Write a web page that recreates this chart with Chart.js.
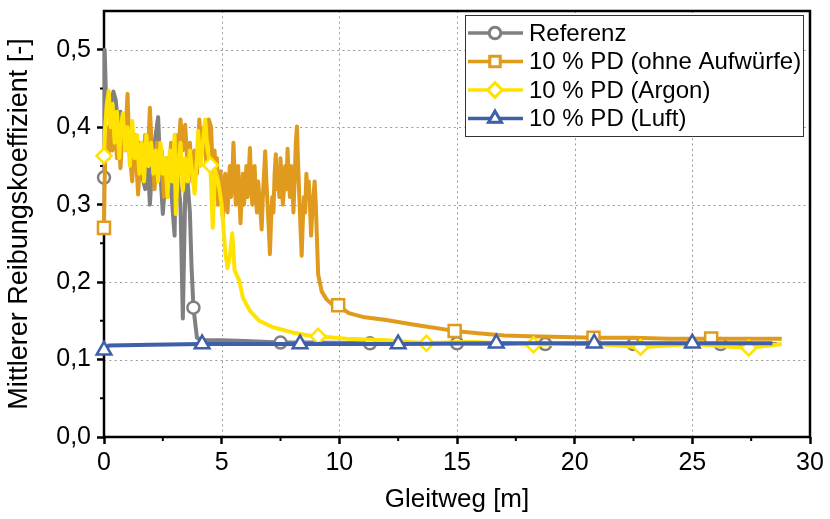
<!DOCTYPE html>
<html lang="de">
<head>
<meta charset="utf-8">
<title>Mittlerer Reibungskoeffizient</title>
<script src="https://cdn.jsdelivr.net/npm/chart.js@4.4.1/dist/chart.umd.min.js"></script>
<style>
    html, body { margin: 0; padding: 0; background: #fff; }
    canvas { display: block; }
</style>
</head>
<body>
<canvas id="reibungChart" width="830" height="519"></canvas>
<script>
// Messreihen: Gleitweg [m] und mittlerer Reibungskoeffizient [-]
const refX = [0, 0.03, 0.1, 0.2, 0.3, 0.4, 0.5, 0.6, 0.7, 0.8, 0.9, 1.0, 1.1, 1.2, 1.3, 1.4, 1.5, 1.6, 1.75, 1.85,
    1.95, 2.05, 2.15, 2.3, 2.4, 2.5, 2.6, 2.7, 2.8, 2.9, 3.0, 3.05, 3.15, 3.25, 3.35, 3.45, 3.55, 3.65, 3.72, 3.8,
    3.95, 4.2, 5.0, 6.0, 7.5, 9.0, 11.3, 13.0, 15.0, 17.0, 18.75, 20.5, 22.5, 24.5, 26.2, 28.6];
const refY = [0.335, 0.50, 0.42, 0.44, 0.43, 0.446, 0.435, 0.40, 0.42, 0.38, 0.41, 0.37, 0.40, 0.36, 0.39, 0.35, 0.38, 0.34, 0.32, 0.36,
    0.30, 0.35, 0.38, 0.413, 0.34, 0.288, 0.33, 0.31, 0.35, 0.30, 0.26, 0.372, 0.33, 0.30, 0.153, 0.313, 0.33, 0.29, 0.22, 0.167,
    0.128, 0.125, 0.125, 0.124, 0.122, 0.122, 0.121, 0.121, 0.121, 0.12, 0.12, 0.12, 0.12, 0.12, 0.12, 0.12];
const refMarks = [0, 3.8, 7.5, 11.3, 15.0, 18.75, 22.5, 26.2];

const ohneX = [0, 0.05, 0.12, 0.2, 0.28, 0.36, 0.45, 0.55, 0.62, 0.7, 0.8, 0.9, 1.0, 1.08, 1.2, 1.3, 1.38, 1.45, 1.55, 1.65,
    1.75, 1.85, 1.95, 2.05, 2.15, 2.25, 2.35, 2.45, 2.55, 2.65, 2.75, 2.85, 2.95, 3.05, 3.15, 3.25, 3.35, 3.45, 3.55, 3.65,
    3.75, 3.85, 3.95, 4.05, 4.15, 4.25, 4.35, 4.45, 4.55, 4.6, 4.65, 4.7, 4.75, 4.8, 4.85, 4.9, 4.95, 5.0,
    5.05, 5.1, 5.15, 5.2, 5.25, 5.3, 5.35, 5.4, 5.45, 5.5, 5.55, 5.6, 5.65, 5.7, 5.75, 5.8, 5.85, 5.9, 5.95, 6.0,
    6.05, 6.1, 6.15, 6.2, 6.25, 6.3, 6.35, 6.4, 6.45, 6.5, 6.55, 6.6, 6.65, 6.7, 6.75, 6.8, 6.85, 6.9, 6.95, 7.0,
    7.05, 7.1, 7.15, 7.2, 7.25, 7.3, 7.35, 7.4, 7.45, 7.5, 7.55, 7.6, 7.65, 7.7, 7.75, 7.8, 7.85, 7.9, 7.95, 8.0,
    8.05, 8.1, 8.15, 8.2, 8.25, 8.3, 8.35, 8.4, 8.45, 8.5, 8.55, 8.6, 8.65, 8.7, 8.75, 8.8, 8.85, 8.9, 8.95, 9.0,
    9.1, 9.25, 9.45, 9.7, 9.95, 10.4, 11.0, 12.0, 13.0, 13.6, 14.9, 15.9, 17.0, 18.1, 19.5, 20.8, 22.5, 24.0, 25.8, 27.0, 28.8];
const ohneY = [0.27, 0.38, 0.40, 0.36, 0.41, 0.37, 0.42, 0.36, 0.39, 0.347, 0.40, 0.38, 0.443, 0.37, 0.33, 0.39, 0.35, 0.313, 0.37, 0.34,
    0.39, 0.35, 0.425, 0.36, 0.32, 0.38, 0.34, 0.37, 0.31, 0.36, 0.33, 0.38, 0.35, 0.39, 0.36, 0.41, 0.37, 0.403, 0.35, 0.38,
    0.33, 0.37, 0.34, 0.41, 0.37, 0.40, 0.35, 0.41, 0.40, 0.36, 0.33, 0.37, 0.34, 0.36, 0.30, 0.33, 0.343, 0.31,
    0.283, 0.32, 0.34, 0.30, 0.29, 0.33, 0.35, 0.31, 0.33, 0.38, 0.34, 0.30, 0.32, 0.35, 0.31, 0.276, 0.31, 0.34, 0.30, 0.32,
    0.35, 0.31, 0.34, 0.373, 0.33, 0.30, 0.33, 0.35, 0.31, 0.29, 0.33, 0.31, 0.29, 0.268, 0.31, 0.34, 0.369, 0.33, 0.30, 0.27,
    0.236, 0.28, 0.31, 0.29, 0.34, 0.365, 0.32, 0.34, 0.31, 0.36, 0.33, 0.30, 0.32, 0.35, 0.32, 0.372, 0.33, 0.31, 0.35, 0.33,
    0.29, 0.33, 0.38, 0.401, 0.35, 0.31, 0.27, 0.234, 0.28, 0.31, 0.29, 0.34, 0.31, 0.33, 0.30, 0.26, 0.29, 0.31, 0.33, 0.30,
    0.21, 0.188, 0.178, 0.171, 0.17, 0.16, 0.155, 0.151, 0.146, 0.143, 0.137, 0.134, 0.131, 0.13, 0.129, 0.128, 0.128, 0.127, 0.127, 0.127, 0.127];
const ohneMarks = [0, 9.95, 14.9, 20.8, 25.8];

const argonX = [0, 0.05, 0.12, 0.2, 0.28, 0.36, 0.45, 0.55, 0.65, 0.72, 0.8, 0.9, 1.0, 1.1, 1.2, 1.3, 1.4, 1.5, 1.6, 1.7,
    1.8, 1.9, 2.0, 2.1, 2.2, 2.3, 2.4, 2.5, 2.6, 2.7, 2.8, 2.9, 3.0, 3.05, 3.15, 3.25, 3.35, 3.45, 3.55, 3.65,
    3.75, 3.85, 3.95, 4.0, 4.1, 4.2, 4.3, 4.4, 4.52, 4.62, 4.72, 4.85, 5.0, 5.15, 5.25, 5.35, 5.45, 5.55, 5.75, 5.9,
    6.2, 6.6, 7.15, 8.0, 8.7, 9.1, 10.3, 12.0, 13.7, 15.5, 18.25, 20.5, 22.8, 25.0, 27.4, 28.8];
const argonY = [0.363, 0.40, 0.43, 0.447, 0.40, 0.43, 0.38, 0.42, 0.36, 0.40, 0.418, 0.37, 0.40, 0.35, 0.408, 0.36, 0.39, 0.34, 0.38, 0.33,
    0.39, 0.35, 0.38, 0.34, 0.37, 0.33, 0.38, 0.34, 0.36, 0.31, 0.37, 0.33, 0.39, 0.288, 0.35, 0.38, 0.318, 0.36, 0.33, 0.37,
    0.34, 0.314, 0.36, 0.395, 0.35, 0.38, 0.41, 0.37, 0.351, 0.27, 0.345, 0.33, 0.30, 0.24, 0.218, 0.235, 0.263, 0.215, 0.202, 0.18,
    0.163, 0.15, 0.142, 0.135, 0.131, 0.13, 0.127, 0.125, 0.121, 0.123, 0.119, 0.121, 0.116, 0.12, 0.115, 0.12];
const argonMarks = [0, 4.52, 9.1, 13.7, 18.25, 22.8, 27.4];

const luftX = [0, 0.2, 2.0, 4.17, 8.33, 12.5, 16.67, 20.83, 25.0, 28.4];
const luftY = [0.112, 0.118, 0.119, 0.12, 0.12, 0.12, 0.121, 0.121, 0.121, 0.121];
const luftMarks = [0, 4.17, 8.33, 12.5, 16.67, 20.83, 25.0];

const xTicks = [0, 5, 10, 15, 20, 25, 30];
const yTicks = [0, 0.1, 0.2, 0.3, 0.4, 0.5];

const FONT = 'Liberation Sans, Arial, sans-serif';

function series(label, xs, ys, marks, color, pointStyle, radius, order) {
    return {
        label: label,
        data: xs.map((x, i) => ({ x: x, y: ys[i] })),
        borderColor: color,
        borderWidth: 4,
        borderJoinStyle: 'round',
        pointStyle: pointStyle,
        pointBackgroundColor: '#fff',
        pointBorderColor: color,
        pointBorderWidth: 2.5,
        pointRadius: (c) => marks.includes(c.raw.x) ? radius : 0,
        pointHoverRadius: 0,
        tension: 0,
        clip: false,
        order: order
    };
}

// punktiertes Gitter, Rahmen und Nebenstriche
const framePlugin = {
    id: 'frame',
    beforeDatasetsDraw(chart) {
        const { ctx, chartArea: a, scales } = chart;
        ctx.save();
        ctx.strokeStyle = '#999';
        ctx.lineWidth = 1;
        ctx.setLineDash([2, 3.3]);
        ctx.beginPath();
        xTicks.slice(1, -1).forEach(v => {
            const px = Math.round(scales.x.getPixelForValue(v)) + 0.5;
            ctx.moveTo(px, a.top);
            ctx.lineTo(px, a.bottom);
        });
        yTicks.slice(1).forEach(v => {
            const py = Math.round(scales.y.getPixelForValue(v)) + 0.5;
            ctx.moveTo(a.left, py);
            ctx.lineTo(a.right, py);
        });
        ctx.stroke();
        ctx.setLineDash([]);

        ctx.strokeStyle = '#000';
        ctx.lineWidth = 2.5;
        ctx.strokeRect(a.left, a.top, a.right - a.left, a.bottom - a.top);
        ctx.lineWidth = 2;
        ctx.beginPath();
        for (let v = 2.5; v < 30; v += 5) {
            const px = scales.x.getPixelForValue(v);
            ctx.moveTo(px, a.bottom);
            ctx.lineTo(px, a.bottom + 4);
        }
        for (let v = 0.05; v < 0.5; v += 0.1) {
            const py = scales.y.getPixelForValue(v);
            ctx.moveTo(a.left, py);
            ctx.lineTo(a.left - 4, py);
        }
        ctx.stroke();
        ctx.restore();
    }
};

// Legende oben rechts, Linie mit Symbol in der Mitte
const legendPlugin = {
    id: 'boxLegend',
    afterDatasetsDraw(chart) {
        const { ctx } = chart;
        const box = { x: 465, y: 15, w: 338, h: 121 };
        ctx.save();
        ctx.fillStyle = '#fff';
        ctx.fillRect(box.x, box.y, box.w, box.h);
        ctx.strokeStyle = '#333';
        ctx.lineWidth = 1;
        ctx.strokeRect(box.x + 0.5, box.y + 0.5, box.w, box.h);
        ctx.font = '24px ' + FONT;
        ctx.textBaseline = 'middle';
        chart.data.datasets.forEach((ds, i) => {
            const y = box.y + 18 + i * 28.5;
            ctx.strokeStyle = ds.borderColor;
            ctx.lineWidth = 3.5;
            ctx.beginPath();
            ctx.moveTo(box.x + 3, y);
            ctx.lineTo(box.x + 58, y);
            ctx.stroke();
            Chart.helpers.drawPoint(ctx, {
                pointStyle: ds.pointStyle,
                radius: ds.pointStyle === 'circle' ? 5.5 : 7,
                borderWidth: 2.5,
                rotation: 0
            }, box.x + 30, y);
            ctx.fillStyle = '#fff';
            ctx.strokeStyle = ds.borderColor;
            ctx.lineWidth = 2.5;
            ctx.fill();
            ctx.stroke();
            ctx.fillStyle = '#000';
            ctx.fillText(ds.label, box.x + 64, y + 1);
        });
        ctx.restore();
    }
};

const tickGrid = {
    drawOnChartArea: false,
    tickColor: '#000',
    tickWidth: 2.5,
    tickLength: 7
};

new Chart(document.getElementById('reibungChart'), {
    type: 'line',
    data: {
        datasets: [
            series('Referenz', refX, refY, refMarks, '#808080', 'circle', 6, 4),
            series('10 % PD (ohne Aufwürfe)', ohneX, ohneY, ohneMarks, '#E09A1E', 'rect', 8.5, 3),
            series('10 % PD (Argon)', argonX, argonY, argonMarks, '#FFE200', 'rectRot', 7.5, 2),
            series('10 % PD (Luft)', luftX, luftY, luftMarks, '#3F5FA8', 'triangle', 8.5, 1)
        ]
    },
    options: {
        responsive: false,
        animation: false,
        events: [],
        layout: { padding: { top: 10, right: 20, left: 0, bottom: 0 } },
        plugins: { legend: { display: false }, tooltip: { enabled: false } },
        scales: {
            x: {
                type: 'linear',
                min: 0,
                max: 30,
                afterBuildTicks: (s) => { s.ticks = xTicks.map(v => ({ value: v })); },
                afterFit: (s) => { s.height = 82; },
                ticks: { color: '#000', font: { family: FONT, size: 25 }, padding: 4 },
                grid: tickGrid,
                border: { display: false },
                title: { display: true, text: 'Gleitweg [m]', color: '#000', font: { family: FONT, size: 26 }, padding: { top: 0, bottom: 4 } }
            },
            y: {
                min: 0,
                max: 0.55,
                afterBuildTicks: (s) => { s.ticks = yTicks.map(v => ({ value: v })); },
                afterFit: (s) => { s.width = 104; s.paddingTop = 0; s.paddingBottom = 0; },
                ticks: {
                    color: '#000',
                    font: { family: FONT, size: 25 },
                    padding: 6,
                    callback: (v) => v.toFixed(1).replace('.', ',')
                },
                grid: tickGrid,
                border: { display: false },
                title: { display: true, text: 'Mittlerer Reibungskoeffizient [-]', color: '#000', font: { family: FONT, size: 27 }, padding: { top: 3, bottom: 0 } }
            }
        }
    },
    plugins: [framePlugin, legendPlugin]
});
</script>
</body>
</html>
